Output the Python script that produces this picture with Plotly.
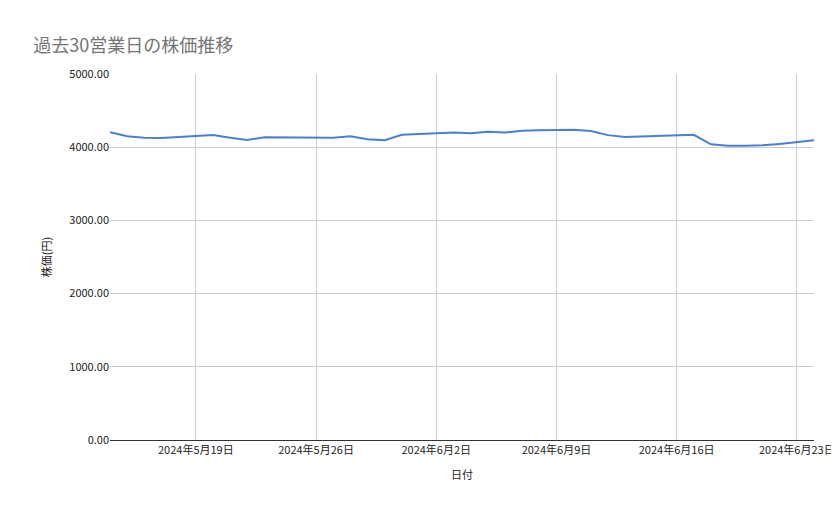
import plotly.graph_objects as go
import pandas as pd

dates = pd.date_range("2024-05-14", "2024-06-24", freq="D").strftime("%Y-%m-%d").tolist()
prices = [4205, 4150, 4130, 4125, 4140, 4150, 4165, 4130, 4100, 4135, 4135, 4130, 4130, 4130,
          4150, 4110, 4095, 4170, 4180, 4190, 4200, 4190, 4210, 4200, 4225, 4230, 4235, 4240,
          4220, 4165, 4140, 4145, 4150, 4160, 4170, 4040, 4020, 4020, 4025, 4045, 4075, 4095]

font = "Noto Sans CJK JP"
fig = go.Figure(go.Scatter(x=dates, y=prices, mode="lines",
                           line=dict(color="#4a7fd4", width=2)))
fig.update_layout(
    width=839, height=519, plot_bgcolor="white", paper_bgcolor="white",
    margin=dict(l=102, r=27, t=66, b=87), showlegend=False,
    font=dict(family=font, size=11, color="#222"),
    title=dict(text="過去30営業日の株価推移", x=0.03, y=0.94, xanchor="left",
               font=dict(family=font, size=18, color="#757575")),
)
fig.update_xaxes(range=["2024-05-14", "2024-06-24"], tick0="2024-05-19", dtick=7*86400000,
                 tickformat="%Y年%-m月%-d日", showgrid=True, gridcolor="#cccccc",
                 showline=True, linecolor="#333", ticks="",
                 title=dict(text="日付", font=dict(size=11)))
fig.update_yaxes(range=[0, 5000], dtick=1000, tickformat=".2f", showgrid=True,
                 gridcolor="#cccccc", zeroline=False,
                 title=dict(text="株価(円)", font=dict(size=11)))
fig.write_html("out.html")
